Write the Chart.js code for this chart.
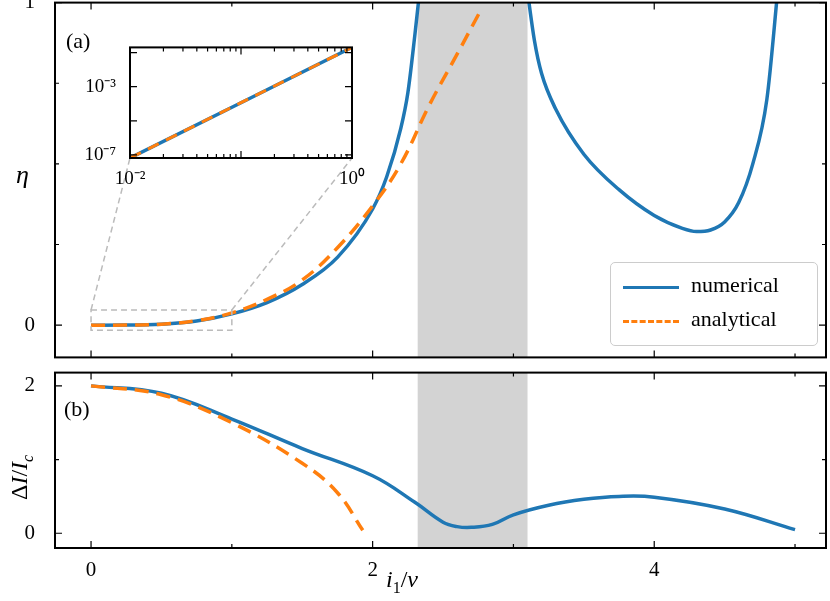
<!DOCTYPE html>
<html><head><meta charset="utf-8">
<script src="https://cdn.jsdelivr.net/npm/chart.js@4"></script>
<style>
body{margin:0;background:#fff;width:830px;height:601px;position:relative;overflow:hidden;font-family:"Liberation Serif",serif;}
canvas{position:absolute;}
.t{position:absolute;font-size:22px;color:#000;white-space:nowrap;}
i{font-style:italic;}
</style></head><body>
<canvas id="top" style="left:0;top:-22px;width:830px;height:404px"></canvas>
<canvas id="bot" style="left:0;top:348px;width:830px;height:253px"></canvas>
<canvas id="ins" style="left:60px;top:30px;width:307px;height:160px"></canvas>
<div class="t" style="left:66px;top:28px">(a)</div>
<div class="t" style="left:64px;top:396px">(b)</div>
<div class="t" style="left:16px;top:160px;font-size:26px"><i>η</i></div>
<div class="t" style="left:6px;top:500px;font-size:24px;transform-origin:0 0;transform:rotate(-90deg)">Δ<i>I</i>/<i>I<sub style="font-size:16px">c</sub></i></div>
<div class="t" style="left:386px;top:566px;font-size:24px"><i>i</i><sub style="font-size:16px">1</sub>/<i>ν</i></div>
<div style="position:absolute;left:610px;top:262px;width:206px;height:82px;border:1px solid #ccc;border-radius:5px;background:rgba(255,255,255,0.9)">
 <div style="position:absolute;left:12px;top:23px;width:56px;border-top:3.5px solid #1f77b4"></div>
 <div style="position:absolute;left:12px;top:57px;width:56px;border-top:3.5px dashed #ff7f0e"></div>
 <div class="t" style="left:80px;top:9px">numerical</div>
 <div class="t" style="left:80px;top:43px">analytical</div>
</div>
<script>
const numTopX=[0,0.25,0.5,0.75,1,1.25,1.5,1.75,2,2.1,2.2,2.25,2.3,2.35,2.7,3.08,3.15,3.2,3.3,3.5,3.75,4,4.2,4.3,4.4,4.5,4.6,4.7,4.8,4.88];
const numTopY=[0,0.0003,0.003,0.013,0.035,0.07,0.126,0.21,0.36,0.46,0.61,0.72,0.9,1.1,null,1.1,0.88,0.78,0.67,0.53,0.42,0.34,0.30,0.29,0.295,0.32,0.38,0.5,0.7,1.05];
const anaTopX=[0,0.25,0.5,0.75,1,1.25,1.5,1.75,2,2.2,2.4,2.6,2.76];
const anaTopY=[0,0.0003,0.003,0.014,0.038,0.08,0.14,0.24,0.37,0.5,0.68,0.84,0.97];
const numBotX=[0,0.5,1,1.5,2,2.3,2.5,2.6,2.7,2.85,3,3.25,3.5,3.75,4,4.5,5];
const numBotY=[2.0,1.9,1.55,1.15,0.78,0.42,0.15,0.09,0.08,0.12,0.25,0.38,0.46,0.5,0.49,0.33,0.05];
const anaBotX=[0,0.5,1,1.5,1.75,1.93];
const anaBotY=[2.0,1.88,1.5,0.95,0.55,0.04];
const insX=[0.01,1];
const insY=[6.6e-8,0.2];
const band=[2.32,3.10];
const BLUE='#1f77b4',ORANGE='#ff7f0e';
const pts=(xs,ys)=>xs.map((x,i)=>({x,y:ys[i]}));
const F={family:'Liberation Serif',size:21};

const ticksIn={id:'ticksIn',afterDraw(c){const ctx=c.ctx,a=c.chartArea;ctx.save();ctx.strokeStyle='#000';ctx.lineWidth=1.2;
 for(const id of ['x','y']){const s=c.scales[id];s.ticks.forEach(t=>{const major=s._ticksLabelled&&s._ticksLabelled.includes(t.value);const L=major?7:4;const p=s.getPixelForValue(t.value);
  if(id==='x'){if(p<a.left-1||p>a.right+1)return;ctx.beginPath();ctx.moveTo(p,a.bottom);ctx.lineTo(p,a.bottom-L);ctx.moveTo(p,a.top);ctx.lineTo(p,a.top+L);ctx.stroke();}
  else{if(p<a.top-1||p>a.bottom+1)return;ctx.beginPath();ctx.moveTo(a.left,p);ctx.lineTo(a.left+L,p);ctx.moveTo(a.right,p);ctx.lineTo(a.right-L,p);ctx.stroke();}});}
 ctx.lineWidth=2;ctx.strokeRect(a.left,a.top,a.right-a.left,a.bottom-a.top);ctx.restore();}};
const shade={id:'shade',beforeDatasetsDraw(c){const ctx=c.ctx,a=c.chartArea,x=c.scales.x;ctx.save();ctx.fillStyle='#d3d3d3';const l=x.getPixelForValue(band[0]),r=x.getPixelForValue(band[1]);ctx.fillRect(l,a.top,r-l,a.bottom-a.top);ctx.restore();}};
const zoomBox={id:'zoomBox',afterDatasetsDraw(c){const ctx=c.ctx,x=c.scales.x,y=c.scales.y;const l=x.getPixelForValue(0),r=x.getPixelForValue(1),t=y.getPixelForValue(0.047),b=y.getPixelForValue(-0.016);
 const off=22;ctx.save();ctx.strokeStyle='#bbb';ctx.lineWidth=1.5;ctx.setLineDash([6,4]);ctx.strokeRect(l,t,r-l,b-t);ctx.beginPath();ctx.moveTo(l,t);ctx.lineTo(130,158+off);ctx.moveTo(r,t);ctx.lineTo(352,158+off);ctx.stroke();ctx.restore();}};
const markMajor=(list)=>function(s){s._ticksLabelled=list;};

function ds(d,col,dash){return{data:d,borderColor:col,borderWidth:3.5,borderDash:dash||[],pointRadius:0,tension:0.4,spanGaps:false,fill:false};}
const common={responsive:false,animation:false,devicePixelRatio:1,plugins:{legend:{display:false},tooltip:{enabled:false}}};
function mk(id,w,h){const c=document.getElementById(id);c.width=w;c.height=h;return c;}

new Chart(mk('top',830,404),{type:'line',data:{datasets:[ds(pts(anaTopX,anaTopY),ORANGE,[14,8]),{...ds(pts(numTopX,numTopY),BLUE),cubicInterpolationMode:'monotone'}]},
 options:{...common,layout:{padding:{left:0,right:4,top:2,bottom:0}},
 scales:{x:{type:'linear',min:-0.256,max:5.22,grid:{display:false},border:{display:false},ticks:{stepSize:1,callback:()=>''},afterBuildTicks:s=>{s.ticks=[0,1,2,3,4,5].map(v=>({value:v}));markMajor([0,2,4])(s);},afterFit:s=>{s.height=8;}},
  y:{min:-0.1,max:1,grid:{display:false},border:{display:false},ticks:{font:F,color:'#000',padding:12,callback:v=>(v===0||v===1)?String(v):''},afterBuildTicks:s=>{s.ticks=[0,0.25,0.5,0.75,1].map(v=>({value:v}));markMajor([0,1])(s);},afterFit:s=>{s.width=55;}}}},
 plugins:[shade,zoomBox,ticksIn]});

new Chart(mk('bot',830,253),{type:'line',data:{datasets:[ds(pts(anaBotX,anaBotY),ORANGE,[14,8]),ds(pts(numBotX,numBotY),BLUE)]},
 options:{...common,layout:{padding:{left:0,right:4,top:7,bottom:0}},
 scales:{x:{type:'linear',min:-0.256,max:5.22,grid:{display:false},border:{display:false},ticks:{font:F,color:'#000',padding:2,maxRotation:0,callback:v=>(v%2===0)?String(v):''},afterBuildTicks:s=>{s.ticks=[0,1,2,3,4,5].map(v=>({value:v}));markMajor([0,2,4])(s);},afterFit:s=>{s.height=53;}},
  y:{min:-0.2,max:2.18,grid:{display:false},border:{display:false},ticks:{font:F,color:'#000',padding:12,callback:v=>(v===0||v===2)?String(v):''},afterBuildTicks:s=>{s.ticks=[0,1,2].map(v=>({value:v}));markMajor([0,2])(s);},afterFit:s=>{s.width=55;}}}},
 plugins:[shade,ticksIn]});

const white={id:'white',beforeDraw(c){const a=c.chartArea,ctx=c.ctx;ctx.save();ctx.fillStyle='#fff';ctx.fillRect(a.left,a.top,a.right-a.left,a.bottom-a.top);ctx.restore();}};
const sup={'-2':'10⁻²','0':'10⁰','-7':'10⁻⁷','-3':'10⁻³'};
const IF={family:'Liberation Serif',size:19};
new Chart(mk('ins',307,160),{type:'line',data:{datasets:[{...ds(pts(insX,insY),ORANGE,[12,8]),borderWidth:3},ds(pts(insX,insY),BLUE)]},
 options:{...common,layout:{padding:{left:0,right:8,top:8,bottom:0}},
 scales:{x:{type:'logarithmic',min:0.01,max:1,grid:{display:false},border:{display:false},
   afterBuildTicks:s=>{const t=[];for(let e=-2;e<=0;e++)for(let m=1;m<10;m++){const v=m*Math.pow(10,e);if(v<=1.0001)t.push({value:v});}s.ticks=t;markMajor([0.01,0.1,1])(s);},
   ticks:{font:IF,color:'#000',padding:2,maxRotation:0,autoSkip:false,callback:function(v){const e=Math.round(Math.log10(v));return (Math.abs(v-0.01)<1e-9||Math.abs(v-1)<1e-9)?sup[String(e)]:'';}},afterFit:s=>{s.height=32;}},
  y:{type:'logarithmic',min:6.6e-8,max:0.2,grid:{display:false},border:{display:false},
   afterBuildTicks:s=>{s.ticks=[1e-7,1e-5,1e-3,1e-1].map(v=>({value:v}));markMajor([1e-7,1e-5,1e-3,1e-1])(s);},
   ticks:{font:IF,color:'#000',padding:6,autoSkip:false,callback:function(v){const e=Math.round(Math.log10(v));return (e===-7||e===-3)?sup[String(e)]:'';}},afterFit:s=>{s.width=70;}}}},
 plugins:[white,ticksIn]});
</script></body></html>
